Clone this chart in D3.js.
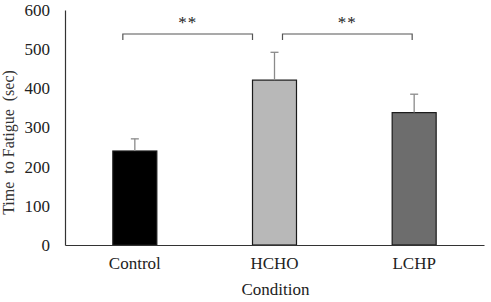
<!DOCTYPE html>
<html><head><meta charset="utf-8">
<script src="https://cdn.jsdelivr.net/npm/d3@7"></script>
<style>html,body{margin:0;padding:0;background:#fff;}svg{display:block;}</style>
</head><body>
<script>
const categories = ["Control", "HCHO", "LCHP"];
const values = [240, 421, 338];
const errors = [31, 71, 47];
const fills = ["#000000", "#b8b8b8", "#6d6d6d"];
const yTicks = [0, 100, 200, 300, 400, 500, 600];
const sigPairs = [["Control", "HCHO", "**"], ["HCHO", "LCHP", "**"]];

const W = 491, H = 302;
const margin = {left: 65, right: 7, top: 10, bottom: 57};
const svg = d3.select("body").append("svg").attr("width", W).attr("height", H);
const font = "'Liberation Serif', 'Times New Roman', serif";

const x = d3.scaleBand().domain(categories).range([margin.left, W - margin.right])
  .paddingInner(0.685).paddingOuter(0.3425);
const y = d3.scaleLinear().domain([0, 600]).range([H - margin.bottom, margin.top]);

// Y axis
const yAxis = svg.append("g").attr("transform", `translate(${margin.left},0)`)
  .call(d3.axisLeft(y).tickValues(yTicks).tickSize(0).tickPadding(15));
yAxis.select(".domain").attr("stroke", "#333").attr("stroke-width", 1.2);
yAxis.selectAll("text").attr("font-family", font).attr("font-size", 17).attr("fill", "#222");

// Bars
svg.append("g").selectAll("rect").data(categories).join("rect")
  .attr("x", d => x(d)).attr("width", x.bandwidth())
  .attr("y", (d, i) => y(values[i])).attr("height", (d, i) => y(0) - y(values[i]))
  .attr("fill", (d, i) => fills[i]).attr("stroke", "#1a1a1a").attr("stroke-width", 1.2);

// Error bars
const eb = svg.append("g").attr("stroke", "#8a8a8a").attr("stroke-width", 1.3);
categories.forEach((c, i) => {
  const cx = x(c) + x.bandwidth() / 2;
  eb.append("line").attr("x1", cx).attr("x2", cx).attr("y1", y(values[i])).attr("y2", y(values[i] + errors[i]));
  eb.append("line").attr("x1", cx - 4).attr("x2", cx + 4).attr("y1", y(values[i] + errors[i])).attr("y2", y(values[i] + errors[i]));
});

// X axis
const xAxis = svg.append("g").attr("transform", `translate(0,${y(0)})`)
  .call(d3.axisBottom(x).tickSize(0).tickPadding(12));
xAxis.select(".domain").attr("stroke", "#333").attr("stroke-width", 1.2);
xAxis.selectAll("text").attr("font-family", font).attr("font-size", 17).attr("fill", "#222");

// Significance brackets
const bracketY = y(540) + 0.5, tickLen = 6;
const bg = svg.append("g");
sigPairs.forEach(([a, b, label], i) => {
  const x1 = i === 0 ? x(a) + 10 : x(a) + x.bandwidth() / 2 + 8;
  const x2 = i === 0 ? x(b) : x(b) + x.bandwidth() / 2 - 2;
  bg.append("path")
    .attr("d", `M${x1},${bracketY + tickLen}V${bracketY}H${x2}V${bracketY + tickLen}`)
    .attr("fill", "none").attr("stroke", "#555").attr("stroke-width", 1.2);
  bg.append("text").attr("x", (x1 + x2) / 2).attr("y", bracketY - 6)
    .attr("text-anchor", "middle").attr("font-family", font).attr("font-size", 17)
    .attr("letter-spacing", 1).attr("fill", "#222").text(label);
});

// Axis titles
svg.append("text").attr("transform", `translate(14,${(y(0) + y(600)) / 2 + 15}) rotate(-90)`)
  .attr("text-anchor", "middle").attr("font-family", font).attr("font-size", 16).attr("fill", "#333")
  .attr("xml:space", "preserve").style("white-space", "pre")
  .text("Time  to Fatigue  (sec)");
svg.append("text").attr("x", (margin.left + W - margin.right) / 2 + 1).attr("y", 295)
  .attr("text-anchor", "middle").attr("font-family", font).attr("font-size", 17).attr("fill", "#222")
  .text("Condition");
</script>
</body></html>
